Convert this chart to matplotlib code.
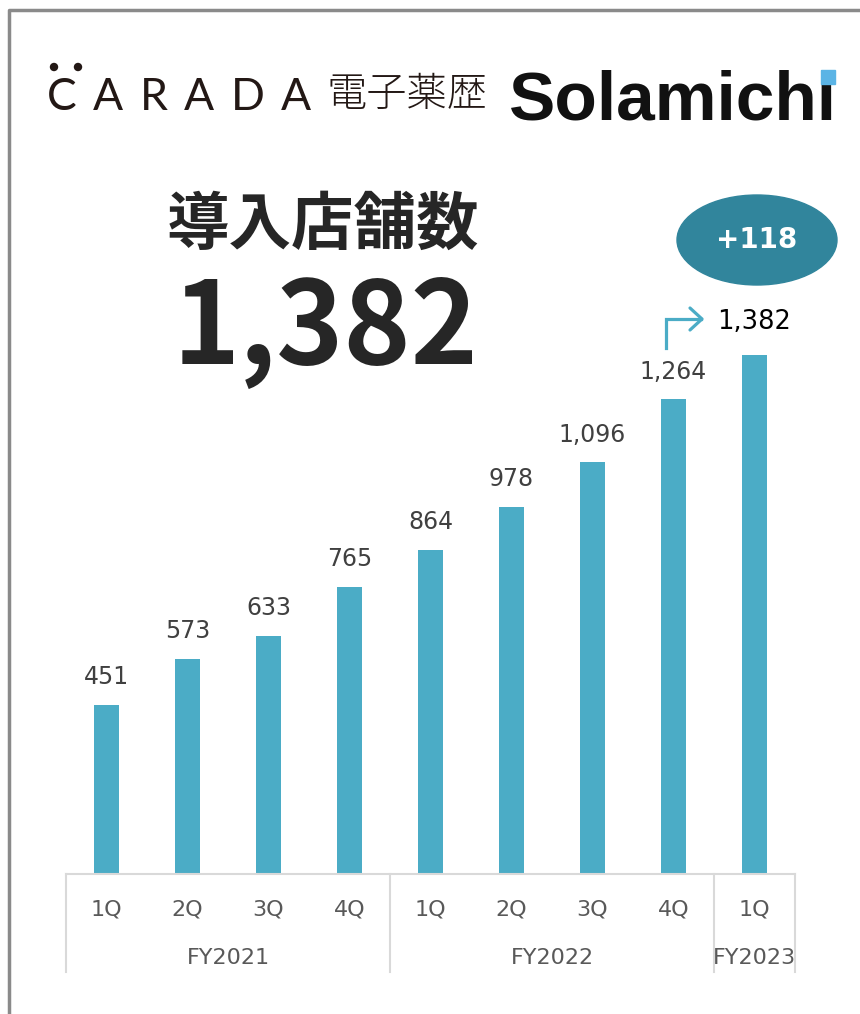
import matplotlib
matplotlib.use("Agg")
import matplotlib.pyplot as plt
from matplotlib.patches import Ellipse, Rectangle
from matplotlib.lines import Line2D
import numpy as np

### Data
quarters = ["1Q", "2Q", "3Q", "4Q", "1Q", "2Q", "3Q", "4Q", "1Q"]
years = ["FY2021", "FY2022", "FY2023"]
year_len = [4, 4, 1]
stores = [451, 573, 633, 765, 864, 978, 1096, 1264, 1382]
title = "導入店舗数"
logo_left = "CARADA"
logo_mid = "電子薬歴"
logo_right = "Solamichi"

W, H = 860, 1014
BAR = "#4bacc6"
GRID = "#d9d9d9"

# pixel (von oben links) -> figure fraction
def fx(x):
    return x / W

def fy(y):
    return 1 - y / H


fig = plt.figure(figsize=(W / 100, H / 100), dpi=100)

### Rahmen
fig.add_artist(Line2D([fx(9), fx(9), 1], [0, fy(10), fy(10)], color="#8a8a8a", lw=2.5))

### Logo
renderer = fig.canvas.get_renderer()
letters = []
total = 0
for ch in logo_left:
    t = fig.text(0, fy(110), ch, fontsize=32, family=["Lato", "DejaVu Sans"],
                 fontweight="normal", color="#231815", va="baseline")
    w = t.get_window_extent(renderer).width
    letters.append((t, w))
    total += w
gap = (264 - total) / (len(logo_left) - 1)
xpos = 47
for t, w in letters:
    t.set_x(fx(xpos))
    xpos += w + gap
for dx in [54, 78]:
    fig.add_artist(Ellipse((fx(dx), fy(67)), 7 / W, 7 / H, color="#231815"))

fig.text(fx(326), fy(95), logo_mid, fontsize=29, family=["Noto Sans CJK JP"],
         fontweight="light", color="#231815", va="center", ha="left")
fig.text(fx(837), fy(120), logo_right, fontsize=50, family=["Liberation Sans"],
         fontweight="bold", color="#111111", va="baseline", ha="right")
fig.add_artist(Rectangle((fx(821), fy(84)), 14 / W, 14 / H, color="#5bb4e5", zorder=5))

### Titel
fig.text(fx(323), fy(225), title, fontsize=45, fontweight="bold",
         family=["Noto Sans CJK JP"], color="#262626", ha="center", va="center")
fig.text(fx(325), fy(364), f"{stores[-1]:,}", fontsize=82, fontweight="bold",
         family=["Noto Sans CJK JP"], color="#262626", ha="center", va="baseline")

### Plus-Blase
fig.add_artist(Ellipse((fx(757), fy(240)), 160 / W, 90 / H, color="#31859c"))
fig.text(fx(757), fy(240), f"+{stores[-1] - stores[-2]}", fontsize=20, fontweight="bold",
         color="white", ha="center", va="center")

# Pfeil
fig.add_artist(Line2D([fx(666), fx(666), fx(701)], [fy(348), fy(319), fy(319)],
                      color=BAR, lw=2.3, solid_joinstyle="miter"))
fig.add_artist(Line2D([fx(690), fx(702), fx(690)], [fy(308), fy(319), fy(330)],
                      color=BAR, lw=2.3, solid_capstyle="round"))

### Balken
top_px, base_px = 310, 874
ax = fig.add_axes([fx(66), fy(base_px), (795 - 66) / W, (base_px - top_px) / H])
x = np.arange(len(stores))
ax.bar(x, stores, width=0.31, color=BAR)
ax.set_xlim(-0.5, len(stores) - 0.5)
ax.set_ylim(0, (base_px - top_px) / 0.3755)
for s in ["top", "left", "right"]:
    ax.spines[s].set_visible(False)
ax.spines["bottom"].set_color(GRID)
ax.spines["bottom"].set_linewidth(1.5)
ax.set_xticks([])
ax.set_yticks([])

for i, v in enumerate(stores):
    last = i == len(stores) - 1
    ax.annotate(f"{v:,}", (i, v), xytext=(0, 19 if last else 15), textcoords="offset points",
                ha="center", va="baseline", fontsize=18.5 if last else 17,
                color="black" if last else "#404040")

def axy(ypx):
    return (base_px - ypx) / (base_px - top_px)

tr = ax.get_xaxis_transform()
for i, q in enumerate(quarters):
    ax.text(i, axy(910), q, transform=tr, ha="center", va="center", fontsize=16, color="#595959")

start = 0
bounds = [-0.5]
for y, n in zip(years, year_len):
    ax.text(start + (n - 1) / 2, axy(958), y, transform=tr, ha="center", va="center",
            fontsize=16, color="#595959")
    start += n
    bounds.append(start - 0.5)
for b in bounds:
    ax.plot([b, b], [0, axy(972)], transform=tr, color=GRID, lw=1.5, clip_on=False)

fig.savefig("out.png", dpi=100)
